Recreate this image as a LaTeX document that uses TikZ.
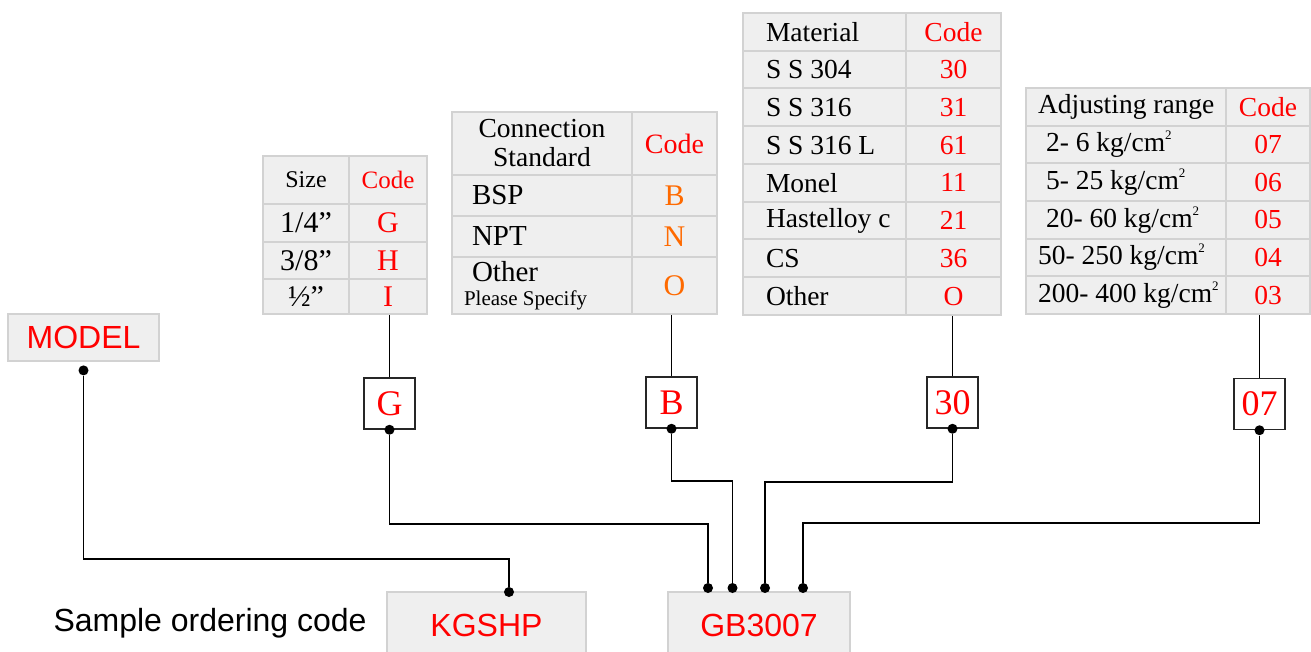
\documentclass[tikz,border=0pt]{standalone}
\usepackage{fontspec}
\setmainfont{Liberation Serif}
\setsansfont{Liberation Sans}
\usepackage{tikz}
\usetikzlibrary{positioning}
\definecolor{codered}{HTML}{FF0000}
\definecolor{codeorange}{HTML}{FF6A00}
\definecolor{cellfill}{HTML}{EFEFEF}
\definecolor{cellline}{HTML}{D2D2D2}
\newcommand{\tabfont}{\fontsize{13.75}{14.5}\selectfont}
\newcommand{\kgcm}{kg/cm\raisebox{0.95ex}{\fontsize{6.5}{6.5}\selectfont 2}}
\tikzset{
  cellbox/.style={draw=cellline,fill=cellfill,line width=1pt,anchor=north west,inner sep=0pt,font=\tabfont},
  codecell/.style={cellbox,text=codered,align=center},
  itemcell/.style={cellbox,align=left,execute at begin node={\spaceskip=0pt\relax\hspace*{#1}}},
  itemcell/.default=10pt,
  codebox/.style={draw=black!85,fill=white,line width=0.75pt,minimum size=25.5pt,inner sep=0pt,
    text=codered,font=\fontsize{18}{18}\selectfont},
  samplebox/.style={draw=cellline,fill=cellfill,line width=1pt,inner sep=0pt,text=codered,
    font=\sffamily\fontsize{16}{16}\selectfont},
  link/.style={line width=0.75pt},
  joint/.style={circle,fill=black,inner sep=0pt,minimum size=5pt}
}
\begin{document}
\begin{tikzpicture}[x=0.5pt,y=-0.5pt]
  \useasboundingbox (0,0) rectangle (1311,652);
  % size table
  \node[cellbox,align=center,text width=43pt,minimum height=24pt,font=\fontsize{12}{12}\selectfont] (sz-0) at (262,155) {Size};
  \node[codecell,text width=39pt,minimum height=24pt,font=\fontsize{12.5}{12.5}\selectfont] (sz-0-c) at (348,155) {Code};
  \node[cellbox,align=center,text width=43pt,minimum height=19pt,font=\fontsize{15}{15}\selectfont] (sz-1) at (262,203) {1/4”};
  \node[codecell,text width=39pt,minimum height=19pt,font=\fontsize{15}{15}\selectfont] (sz-1-c) at (348,203) {G};
  \node[cellbox,align=center,text width=43pt,minimum height=18.5pt,font=\fontsize{15}{15}\selectfont] (sz-2) at (262,241) {3/8”};
  \node[codecell,text width=39pt,minimum height=18.5pt,font=\fontsize{15}{15}\selectfont] (sz-2-c) at (348,241) {H};
  \node[cellbox,align=center,text width=43pt,minimum height=17.5pt,font=\fontsize{15}{15}\selectfont] (sz-3) at (262,278) {½”};
  \node[codecell,text width=39pt,minimum height=17.5pt,font=\fontsize{15}{15}\selectfont] (sz-3-c) at (348,278) {I};
  % connection table
  \node[cellbox,align=center,text width=90pt,minimum height=31.5pt] (cs-0) at (451,111) {Connection\\Standard};
  \node[codecell,text width=42.5pt,minimum height=31.5pt,font=\fontsize{14}{14}\selectfont] (cs-0-c) at (631,111) {Code};
  \foreach \item/\code/\y/\h [count=\i] in {BSP/B/174/20.5,NPT/N/215/20.5}{
    \node[itemcell,text width=90pt,minimum height=\h pt,font=\fontsize{14.5}{14.5}\selectfont] (cs-\i) at (451,\y) {\item};
    \node[codecell,text=codeorange,text width=42.5pt,minimum height=\h pt,font=\fontsize{15}{15}\selectfont] (cs-\i-c) at (631,\y) {\code};
  }
  \node[itemcell,text width=90pt,minimum height=28.5pt,font=\fontsize{14.5}{12}\selectfont] (cs-3) at (451,256)
    {Other\\\hspace*{6pt}{\fontsize{10.5}{10.5}\selectfont Please Specify}};
  \node[codecell,text=codeorange,text width=42.5pt,minimum height=28.5pt,font=\fontsize{15}{15}\selectfont] (cs-3-c) at (631,256) {O};
  % material table
  \foreach \item/\code [count=\i from 0] in {Material/Code,S S 304/30,S S 316/31,S S 316 L/61,Monel/11,Hastelloy c/21,CS/36,Other/O}{
    \node[itemcell=11.5pt,text width=81.5pt,minimum height=18.875pt] (mt-\i) at (742,12+37.75*\i) {\item};
    \node[codecell,text width=47.5pt,minimum height=18.875pt] (mt-\i-c) at (905,12+37.75*\i) {\code};
  }
  % adjusting range table
  \node[itemcell=6pt,text width=100pt,minimum height=18.83pt] (ar-0) at (1025,87) {Adjusting range};
  \node[codecell,text width=42pt,minimum height=18.83pt] (ar-0-c) at (1225,87) {Code};
  \foreach \ind/\range/\code [count=\i] in {4pt/2- 6/07,4pt/5- 25/06,4pt/20- 60/05,0pt/50- 250/04,0pt/200- 400/03}{
    \node[itemcell=6pt,text width=100pt,minimum height=18.83pt] (ar-\i) at (1025,87+37.67*\i) {\hspace*{\ind}\range\ \kgcm};
    \node[codecell,text width=42pt,minimum height=18.83pt] (ar-\i-c) at (1225,87+37.67*\i) {\code};
  }
  % chosen codes
  \node[codebox] (cb-size) at (389.5,403.5) {G};
  \node[codebox] (cb-conn) at (671.5,402.5) {B};
  \node[codebox] (cb-mat) at (952.5,402.5) {30};
  \node[codebox] (cb-range) at (1259.5,404) {07};
  \draw[link] (cb-size.north) -- (cb-size.north |- sz-3-c.south);
  \draw[link] (cb-conn.north) -- (cb-conn.north |- cs-3-c.south);
  \draw[link] (cb-mat.north) -- (cb-mat.north |- mt-7-c.south);
  \draw[link] (cb-range.north) -- (cb-range.north |- ar-5-c.south);
  % sample code
  \node[samplebox,minimum width=75.5pt,minimum height=23.5pt] (model) at (83.5,337.5) {MODEL};
  \node[samplebox,minimum width=99.5pt,minimum height=33pt] (kgshp) at (486.5,625) {KGSHP};
  \node[samplebox,minimum width=91pt,minimum height=33pt] (gb) at (759,625) {GB3007};
  \node[anchor=east,inner sep=0pt,font=\sffamily\fontsize{16}{16}\selectfont] (sample) at (367,623) {Sample ordering code};
  \node[joint,below=1.5pt of model] (j-model) {};
  \node[joint] (j-size) at (cb-size.south) {};
  \node[joint] (j-conn) at (cb-conn.south) {};
  \node[joint] (j-mat) at (cb-mat.south) {};
  \node[joint] (j-range) at (cb-range.south) {};
  \node[joint] (j-k) at (509,592) {};
  \node[joint] (j-g1) at (708,588) {};
  \node[joint] (j-g2) at (732.5,588) {};
  \node[joint] (j-g3) at (765,588) {};
  \node[joint] (j-g4) at (803,588) {};
  \draw[link] (j-model) -- ++(0,188.5) -| (j-k);
  \draw[link] (j-size) -- ++(0,94) -| (j-g1);
  \draw[link] (j-conn) -- ++(0,52) -| (j-g2);
  \draw[link] (j-mat) -- ++(0,53) -| (j-g3);
  \draw[link] (j-range) -- ++(0,92.5) -| (j-g4);
\end{tikzpicture}
\end{document}
